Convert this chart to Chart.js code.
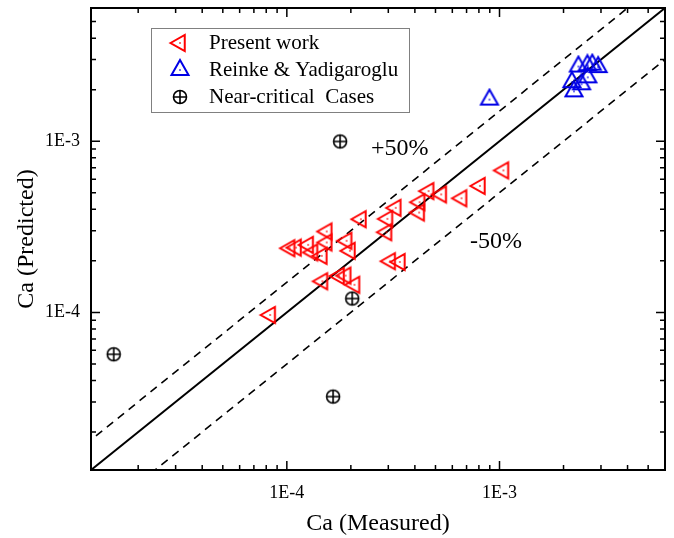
<!DOCTYPE html>
<html>
<head>
<meta charset="utf-8">
<script src="https://cdn.jsdelivr.net/npm/chart.js@4.4.1/dist/chart.umd.min.js"></script>
<style>
  body { margin: 0; background: #fff; }
  #wrap { width: 674px; height: 538px; }
</style>
</head>
<body>
<div id="wrap"><canvas id="chart" width="674" height="538"></canvas></div>
<script>
const presentX = [8.35e-5, 1.03e-4, 1.105e-4, 1.26e-4, 1.32e-4, 1.46e-4, 1.54e-4, 1.54e-4, 1.91e-4,
  1.98e-4, 2.23e-4, 2.97e-4, 2.94e-4, 3.25e-4, 4.21e-4, 4.19e-4, 4.64e-4, 5.32e-4, 6.63e-4,
  8.09e-4, 1.043e-3, 3.06e-4, 3.40e-4, 1.47e-4, 1.76e-4, 1.89e-4, 2.08e-4];
const presentY = [9.66e-5, 2.37e-4, 2.39e-4, 2.48e-4, 2.24e-4, 2.14e-4, 2.97e-4, 2.56e-4, 2.62e-4,
  2.29e-4, 3.50e-4, 3.52e-4, 2.94e-4, 4.08e-4, 4.40e-4, 3.83e-4, 5.11e-4, 4.89e-4, 4.64e-4,
  5.48e-4, 6.75e-4, 1.99e-4, 1.97e-4, 1.52e-4, 1.63e-4, 1.64e-4, 1.45e-4];

const reinkeX = [8.97e-4, 2.35e-3, 2.59e-3, 2.73e-3, 2.91e-3, 2.60e-3, 2.19e-3, 2.43e-3, 2.24e-3];
const reinkeY = [1.75e-3, 2.73e-3, 2.78e-3, 2.80e-3, 2.71e-3, 2.36e-3, 2.21e-3, 2.15e-3, 1.955e-3];

const nearX = [1.535e-5, 1.78e-4, 2.03e-4, 1.65e-4];
const nearY = [5.69e-5, 9.96e-4, 1.205e-4, 3.22e-5];

// droites y = k*x (k = 1, +50%, -50%)
const refX = [1e-5, 1e-2];
const refFactors = [1, 1.5, 0.5];

const axisMin = 1.2e-5;
const axisMax = 6e-3;
const tickValues = [1e-4, 1e-3];
const tickLabels = ['1E-4', '1E-3'];

const RED = '#ff0000';
const BLUE = '#0000e6';
const SERIF = '"Liberation Serif", "DejaVu Serif", serif';

// Symboles dessinés à la main (triangle avec point central, cercle barré)
function makeMarker(kind) {
    const c = document.createElement('canvas');
    c.width = 24;
    c.height = 24;
    const g = c.getContext('2d');
    const cx = 12, cy = 12;
    g.lineWidth = 2;
    if (kind === 'left') {
        g.strokeStyle = RED;
        g.fillStyle = RED;
        g.beginPath();
        g.moveTo(cx - 9.5, cy);
        g.lineTo(cx + 4.75, cy - 8);
        g.lineTo(cx + 4.75, cy + 8);
        g.closePath();
        g.stroke();
        g.fillRect(cx - 0.75, cy - 0.75, 1.5, 1.5);
    } else if (kind === 'up') {
        g.strokeStyle = BLUE;
        g.fillStyle = BLUE;
        g.beginPath();
        g.moveTo(cx, cy - 10);
        g.lineTo(cx + 8.5, cy + 5);
        g.lineTo(cx - 8.5, cy + 5);
        g.closePath();
        g.stroke();
        g.fillRect(cx - 0.75, cy - 0.75, 1.5, 1.5);
    } else {
        g.strokeStyle = '#000';
        g.lineWidth = 1.6;
        g.beginPath();
        g.arc(cx, cy, 6.5, 0, Math.PI * 2);
        g.moveTo(cx - 6.5, cy);
        g.lineTo(cx + 6.5, cy);
        g.moveTo(cx, cy - 6.5);
        g.lineTo(cx, cy + 6.5);
        g.stroke();
    }
    return c;
}

function toPoints(xs, ys) {
    return xs.map((x, i) => ({ x: x, y: ys[i] }));
}

function isNice(v) {
    const e = Math.floor(Math.log10(v) + 1e-9);
    const s = v / Math.pow(10, e);
    return { nice: Math.abs(s - Math.round(s)) < 1e-6, major: Math.round(s) === 1 };
}

function tickLabel(value) {
    const i = tickValues.findIndex(t => Math.abs(t - value) / t < 1e-6);
    return i >= 0 ? tickLabels[i] : '';
}

// Cadre, graduations intérieures sur les 4 côtés, légende et annotations
const framePlugin = {
    id: 'frame',
    afterDraw(chart) {
        const ctx = chart.ctx;
        const a = chart.chartArea;
        const xs = chart.scales.x;
        const ys = chart.scales.y;
        ctx.save();
        ctx.strokeStyle = '#000';
        ctx.lineWidth = 1.5;
        ctx.beginPath();
        xs.ticks.forEach(t => {
            const n = isNice(t.value);
            if (!n.nice) return;
            const px = xs.getPixelForValue(t.value);
            const len = n.major ? 9 : 5;
            ctx.moveTo(px, a.bottom);
            ctx.lineTo(px, a.bottom - len);
            ctx.moveTo(px, a.top);
            ctx.lineTo(px, a.top + len);
        });
        ys.ticks.forEach(t => {
            const n = isNice(t.value);
            if (!n.nice) return;
            const py = ys.getPixelForValue(t.value);
            const len = n.major ? 9 : 5;
            ctx.moveTo(a.left, py);
            ctx.lineTo(a.left + len, py);
            ctx.moveTo(a.right, py);
            ctx.lineTo(a.right - len, py);
        });
        ctx.stroke();

        ctx.lineWidth = 2;
        ctx.strokeRect(a.left, a.top, a.right - a.left, a.bottom - a.top);

        // légende
        ctx.lineWidth = 1;
        ctx.strokeStyle = '#808080';
        ctx.strokeRect(151.5, 28.5, 258, 84);
        ctx.font = '21px ' + SERIF;
        ctx.fillStyle = '#000';
        ctx.textBaseline = 'middle';
        const rows = [43, 70, 97];
        chart.data.datasets.filter(ds => ds.inLegend).forEach((ds, i) => {
            ctx.drawImage(ds.pointStyle, 180 - 12, rows[i] - 12);
            ctx.fillText(ds.label, 209, rows[i]);
        });

        // annotations
        ctx.font = '24px ' + SERIF;
        ctx.fillText('+50%', 371, 149);
        ctx.fillText('-50%', 470, 242);
        ctx.restore();
    }
};

const refLines = refFactors.map(k => ({
    type: 'line',
    label: 'y = ' + k + 'x',
    data: refX.map(x => ({ x: x, y: k * x })),
    borderColor: '#000',
    borderWidth: k === 1 ? 2 : 1.6,
    borderDash: k === 1 ? [] : [8, 6],
    pointRadius: 0,
    fill: false,
    inLegend: false
}));

const ctx = document.getElementById('chart').getContext('2d');
new Chart(ctx, {
    type: 'scatter',
    data: {
        datasets: [
            {
                label: 'Present work',
                data: toPoints(presentX, presentY),
                pointStyle: makeMarker('left'),
                inLegend: true
            },
            {
                label: 'Reinke & Yadigaroglu',
                data: toPoints(reinkeX, reinkeY),
                pointStyle: makeMarker('up'),
                inLegend: true
            },
            {
                label: 'Near-critical  Cases',
                data: toPoints(nearX, nearY),
                pointStyle: makeMarker('circle'),
                inLegend: true
            },
            ...refLines
        ]
    },
    options: {
        responsive: false,
        animation: false,
        layout: { padding: { left: 0, right: 9, top: 8, bottom: 0 } },
        plugins: {
            legend: { display: false },
            tooltip: { enabled: false }
        },
        scales: {
            x: {
                type: 'logarithmic',
                min: axisMin,
                max: axisMax,
                grid: { display: false, drawTicks: false },
                border: { display: false },
                ticks: {
                    autoSkip: false,
                    maxRotation: 0,
                    padding: 12,
                    color: '#000',
                    font: { family: SERIF, size: 18 },
                    callback: value => tickLabel(value)
                },
                title: {
                    display: true,
                    text: 'Ca (Measured)',
                    color: '#000',
                    font: { family: SERIF, size: 24 },
                    padding: { top: 0, bottom: 0 }
                },
                afterFit: scale => {
                    scale.height = 68;
                    scale.paddingLeft = 0;
                    scale.paddingRight = 0;
                }
            },
            y: {
                type: 'logarithmic',
                min: axisMin,
                max: axisMax,
                grid: { display: false, drawTicks: false },
                border: { display: false },
                ticks: {
                    autoSkip: false,
                    padding: 11,
                    color: '#000',
                    font: { family: SERIF, size: 18 },
                    callback: value => tickLabel(value)
                },
                title: {
                    display: true,
                    text: 'Ca (Predicted)',
                    color: '#000',
                    font: { family: SERIF, size: 24 },
                    padding: { top: 12, bottom: 0 }
                },
                afterFit: scale => {
                    scale.width = 91;
                    scale.paddingTop = 0;
                    scale.paddingBottom = 0;
                }
            }
        }
    },
    plugins: [framePlugin]
});
</script>
</body>
</html>
